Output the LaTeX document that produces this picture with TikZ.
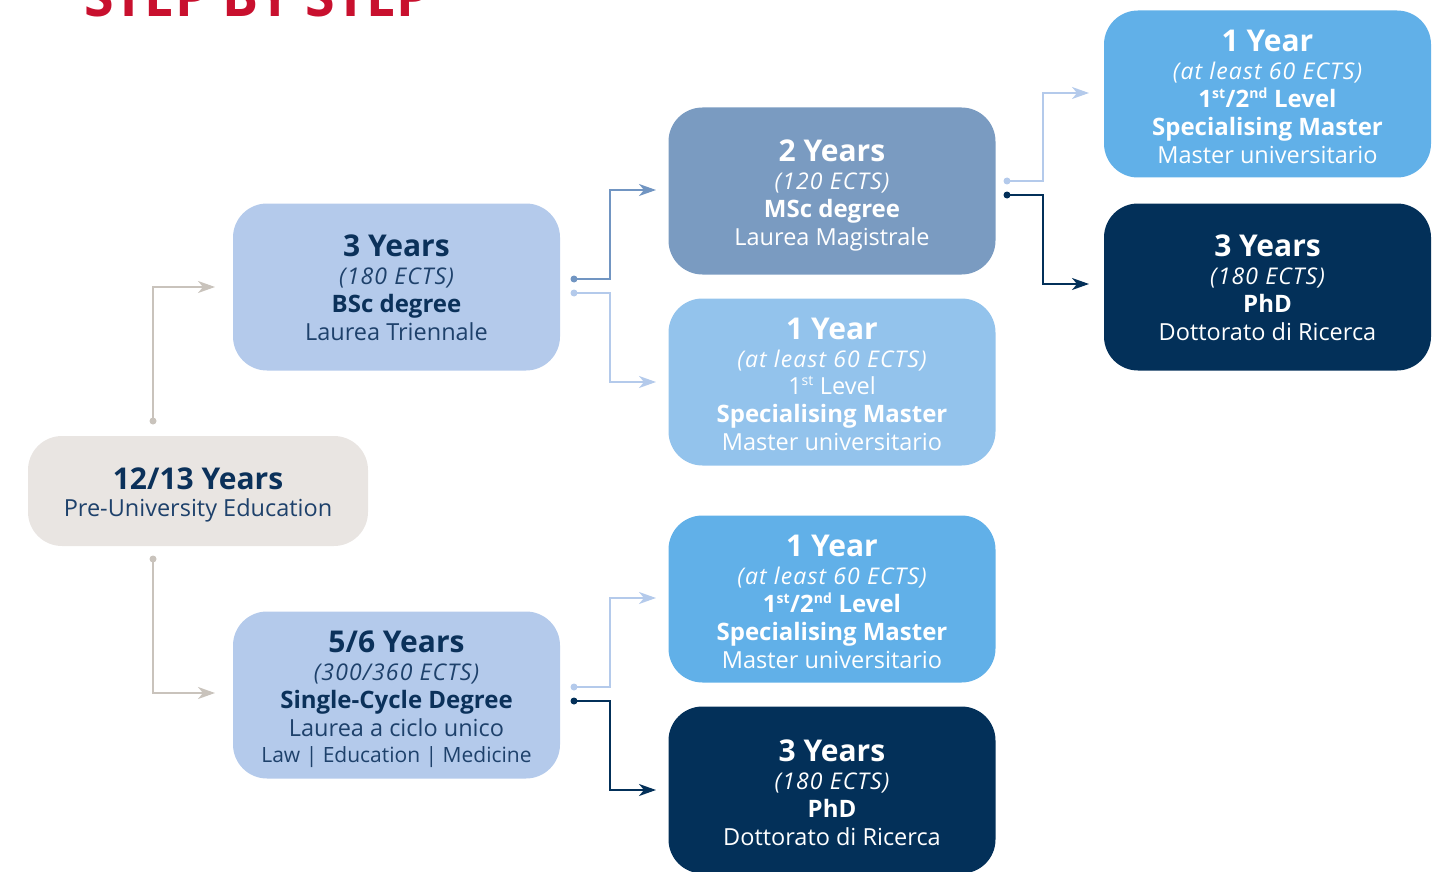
\documentclass[tikz,border=0pt]{standalone}
\usepackage{fontspec}
\setmainfont{Open Sans}
\usetikzlibrary{arrows.meta}
\definecolor{cgray}{HTML}{E9E5E2}
\definecolor{cgrayline}{HTML}{C9C3BC}
\definecolor{clight}{HTML}{B4CAEB}
\definecolor{csteel}{HTML}{7A9BC1}
\definecolor{csky}{HTML}{93C3EC}
\definecolor{cskydeep}{HTML}{61B0E8}
\definecolor{cnavy}{HTML}{033059}
\definecolor{cnavytext}{HTML}{0B315A}
\definecolor{cbodytext}{HTML}{1E416B}
\definecolor{cred}{HTML}{C8102E}
\definecolor{csteelline}{HTML}{7195C2}
\tikzset{
  box/.style={rectangle, rounded corners=34pt, minimum width=327pt, minimum height=167pt, inner sep=0pt},
  txt/.style={align=center, inner sep=0pt, font=\fontsize{23.5}{28}\selectfont},
  conn/.style={line width=1.8pt, -{Stealth[length=17pt,width=12pt,inset=5pt]}},
  dotc/.style={circle, inner sep=0pt, minimum size=7pt},
}
\newcommand{\hd}[1]{{\fontsize{30}{28}\selectfont\bfseries #1}}
\newcommand{\itx}[1]{{\fontsize{23}{28}\selectfont\itshape\addfontfeatures{LetterSpace=5}#1}}
\newcommand{\bx}[1]{{\fontsize{24}{28}\selectfont\bfseries #1}}
\newcommand{\ordsup}[1]{\textsuperscript{\fontsize{14}{14}\selectfont #1}}
\begin{document}
\begin{tikzpicture}[x=1pt,y=-1pt]
\useasboundingbox (0,0) rectangle (1449,872);
\clip (0,0) rectangle (1449,872);
% title (cut off at the top edge, as in the reference)
\node[anchor=base west, inner sep=0pt, text=cred, font=\fontsize{56}{56}\selectfont\bfseries, xscale=0.96] (title) at (84,17) {STEP BY STEP};
% boxes
\node[box, fill=cgray, minimum width=340pt, minimum height=110pt] (pre) at (198,491) {};
\node[box, fill=clight] (bsc) at (396.5,287) {};
\node[box, fill=clight] (scd) at (396.5,695) {};
\node[box, fill=csteel] (msc) at (832,191) {};
\node[box, fill=csky] (spm1) at (832,382) {};
\node[box, fill=cskydeep] (spm2) at (832,599) {};
\node[box, fill=cnavy] (phd2) at (832,790) {};
\node[box, fill=cskydeep] (spm3) at (1267.5,94) {};
\node[box, fill=cnavy] (phd1) at (1267.5,287) {};
% texts
\node[txt, text=cbodytext] (tpre) at ([yshift=-4pt]pre.center) {\textcolor{cnavytext}{\hd{12/13 Years}}\\[-1pt] Pre-University Education};
\node[txt, text=cbodytext] (tbsc) at ([yshift=-1pt]bsc.center) {\textcolor{cnavytext}{\hd{3 Years}}\\ \itx{(180 ECTS)}\\ \textcolor{cnavytext}{\bx{BSc degree}}\\ Laurea Triennale};
\node[txt, text=cbodytext] (tscd) at ([yshift=-4pt]scd.center) {\textcolor{cnavytext}{\hd{5/6 Years}}\\ \itx{(300/360 ECTS)}\\ \textcolor{cnavytext}{\bx{Single-Cycle Degree}}\\ Laurea a ciclo unico\\[-2pt] {\fontsize{21}{28}\selectfont Law | Education | Medicine}};
\node[txt, text=white] (tmsc) at ([yshift=-4pt]msc.center) {\hd{2 Years}\\ \itx{(120 ECTS)}\\ \bx{MSc degree}\\ Laurea Magistrale};
\node[txt, text=white] (tspm1) at ([yshift=-2pt]spm1.center) {\hd{1 Year}\\ \itx{(at least 60 ECTS)}\\[-1pt] 1\ordsup{st} Level\\ \bx{Specialising Master}\\ Master universitario};
\node[txt, text=white] (tspm2) at ([yshift=-3pt]spm2.center) {\hd{1 Year}\\ \itx{(at least 60 ECTS)}\\ \bx{1\ordsup{st}/2\ordsup{nd} Level}\\ \bx{Specialising Master}\\ Master universitario};
\node[txt, text=white] (tphd2) at ([yshift=-3pt]phd2.center) {\hd{3 Years}\\ \itx{(180 ECTS)}\\ \bx{PhD}\\ Dottorato di Ricerca};
\node[txt, text=white] (tspm3) at ([yshift=-3pt]spm3.center) {\hd{1 Year}\\ \itx{(at least 60 ECTS)}\\ \bx{1\ordsup{st}/2\ordsup{nd} Level}\\ \bx{Specialising Master}\\ Master universitario};
\node[txt, text=white] (tphd1) at ([yshift=-1pt]phd1.center) {\hd{3 Years}\\ \itx{(180 ECTS)}\\ \bx{PhD}\\ Dottorato di Ricerca};
% connector start dots
\node[dotc, fill=cgrayline] (d1) at (153,421) {};
\node[dotc, fill=cgrayline] (d2) at (153,559) {};
\node[dotc, fill=csteelline] (d3) at (574,279) {};
\node[dotc, fill=clight] (d4) at (574,293) {};
\node[dotc, fill=clight] (d5) at (1007,181) {};
\node[dotc, fill=cnavy] (d6) at (1007,195) {};
\node[dotc, fill=clight] (d7) at (574,687) {};
\node[dotc, fill=cnavy] (d8) at (574,701) {};
% arrow end coordinates
\coordinate (e1) at (215,287);
\coordinate (e2) at (215,693);
\coordinate (e3) at (656,190);
\coordinate (e4) at (656,382);
\coordinate (e5) at (1089,93);
\coordinate (e6) at (1089,284);
\coordinate (e7) at (656,598);
\coordinate (e8) at (656,790);
% connectors
\draw[conn, cgrayline] (d1.center) |- (e1);
\draw[conn, cgrayline] (d2.center) |- (e2);
\draw[conn, csteelline] (d3.center) -- (610,279) |- (e3);
\draw[conn, clight] (d4.center) -- (610,293) |- (e4);
\draw[conn, clight] (d5.center) -- (1043,181) |- (e5);
\draw[conn, cnavy] (d6.center) -- (1043,195) |- (e6);
\draw[conn, clight] (d7.center) -- (610,687) |- (e7);
\draw[conn, cnavy] (d8.center) -- (610,701) |- (e8);
\end{tikzpicture}
\end{document}
